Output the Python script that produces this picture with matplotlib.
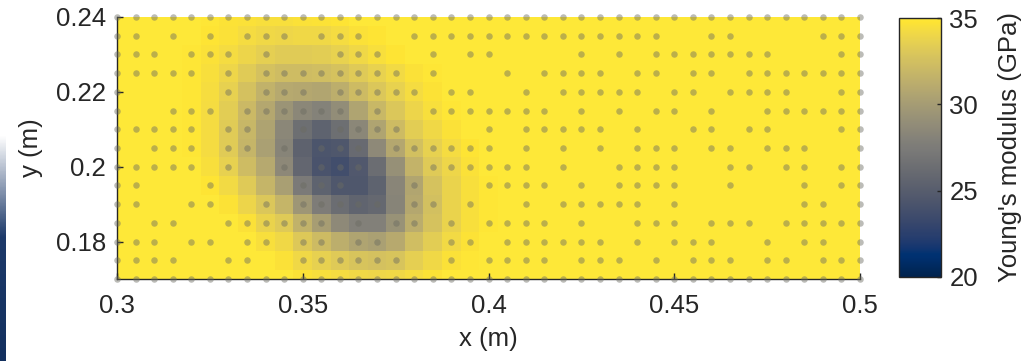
import numpy as np
import matplotlib
matplotlib.use("Agg")
import matplotlib.pyplot as plt
from matplotlib.colors import LinearSegmentedColormap

plt.rcParams['font.family'] = ['Liberation Sans', 'DejaVu Sans']

# ---------------- data ----------------
x_nodes = np.linspace(0.30, 0.50, 41)          # grid columns (m)
y_nodes = np.linspace(0.24, 0.17, 15)          # grid rows, top to bottom (m)

E_bg = 35.0
# Young's modulus (GPa) for columns x = 0.32 ... 0.40 (17 columns), rows top->bottom
E_patch = [
    [35.0, 34.9, 34.7, 34.6, 34.5, 34.5, 34.6, 34.7, 34.8, 35.0, 35.0, 35.0, 35.0, 35.0, 35.0, 35.0, 35.0],
    [35.0, 34.8, 34.6, 34.3, 34.1, 34.0, 34.1, 34.1, 34.3, 34.6, 34.8, 35.0, 35.0, 35.0, 35.0, 35.0, 35.0],
    [34.9, 34.6, 34.3, 33.9, 33.5, 33.3, 33.3, 33.4, 33.7, 34.1, 34.5, 34.8, 35.0, 35.0, 35.0, 35.0, 35.0],
    [34.9, 34.5, 34.0, 33.3, 32.6, 32.3, 32.3, 32.4, 32.7, 33.2, 33.7, 34.2, 34.6, 34.9, 35.0, 35.0, 35.0],
    [34.9, 34.4, 33.6, 32.6, 31.6, 30.9, 30.8, 30.7, 31.3, 32.2, 33.0, 33.7, 34.3, 34.7, 35.0, 35.0, 35.0],
    [34.9, 34.3, 33.4, 32.1, 30.8, 29.4, 28.4, 28.0, 28.9, 30.6, 32.0, 33.0, 33.9, 34.5, 34.9, 35.0, 35.0],
    [34.9, 34.3, 33.3, 31.9, 30.5, 28.4, 26.5, 25.5, 26.5, 28.4, 30.6, 32.2, 33.4, 34.1, 34.6, 35.0, 35.0],
    [34.9, 34.3, 33.3, 31.8, 30.3, 28.2, 25.4, 24.3, 24.5, 26.1, 28.6, 30.8, 32.5, 33.6, 34.3, 34.8, 35.0],
    [35.0, 34.5, 33.6, 32.3, 30.9, 28.5, 25.8, 24.2, 23.7, 24.6, 26.3, 29.1, 31.7, 33.2, 34.0, 34.6, 35.0],
    [35.0, 34.8, 34.2, 33.2, 31.8, 30.2, 27.4, 25.5, 24.5, 24.5, 25.5, 28.3, 30.7, 32.7, 33.8, 34.5, 34.9],
    [35.0, 35.0, 34.7, 33.9, 33.0, 31.8, 29.6, 27.6, 26.3, 25.6, 25.9, 28.2, 30.8, 32.5, 33.8, 34.5, 34.9],
    [35.0, 35.0, 35.0, 34.6, 33.8, 33.2, 31.6, 30.1, 28.6, 27.9, 27.9, 29.2, 31.2, 32.7, 33.8, 34.5, 34.9],
    [35.0, 35.0, 35.0, 35.0, 34.5, 34.1, 33.1, 32.2, 31.3, 30.6, 30.3, 31.0, 32.4, 33.4, 34.2, 34.7, 35.0],
    [35.0, 35.0, 35.0, 35.0, 35.0, 34.6, 34.1, 33.6, 33.2, 32.8, 32.6, 32.8, 33.5, 34.1, 34.6, 34.9, 35.0],
    [35.0, 35.0, 35.0, 35.0, 35.0, 35.0, 34.7, 34.5, 34.3, 34.1, 34.0, 34.1, 34.4, 34.7, 35.0, 35.0, 35.0],
]
patch_x0 = 0.32  # x of first patch column

# measurement points ('x' = point present), rows top->bottom, 41 columns
point_rows = [
    "xxxxxxxxxxxxxxxxxxxxxxxxxxxxxxxxxxxxxxxxx",
    "xx.x.x.xxx.xxx..xxxxxxxxxxxxxx..xx....xxx",
    "xxx.xxx.x...xxx..x.xx....x.x.xxxxxxx...xx",
    "xxxxx.x.xxxxxxxx.x...x.xxxx.xx.xx.xxxxxxx",
    "x.....x.xxx.xxxxx.xx..x.xxxxx.xx.xxxx..xx",
    "x..xxx.xxxxxx.x..xxxxxxx.x.x.xx.x..xxxxxx",
    "xxxxx.xx..x.xxxx....x.xxxxx.x..xx.xx...xx",
    "x.xxx.xx.x.xxx.xxxxxx.x.x.x.xxx.xx.xxx..x",
    "xxxxx.x..x.xxx...xxxxxx.x..xxxx..xx.xx.xx",
    "xx...x....xxx...x...xxxx.x.xxxx..x...x.xx",
    "xx..xx..x.xxxxx.xx.x..x.xxxxx.x......xx.x",
    "x.xx..xxxxxx.x.xx.x.xxxx.x..xxx.xxx.xxxxx",
    "xxx.xx.xx.xx.xx...xx.xxxxxx.x.xxx..x.xx.x",
    "xxxx..xx..xxxxxx..x.xxxx.xxx.x.xxx.xx.xxx",
    "xxxxxxxxxxxxxxxxxxxxxxxxxxxxxxxxxxxxxxxxx",
]

x_ticks = [0.30, 0.35, 0.40, 0.45, 0.50]
x_ticklabels = ["0.3", "0.35", "0.4", "0.45", "0.5"]
y_ticks = [0.18, 0.20, 0.22, 0.24]
y_ticklabels = ["0.18", "0.2", "0.22", "0.24"]
cb_ticks = [20, 25, 30, 35]
cb_ticklabels = ["20", "25", "30", "35"]

# ---------------- build field ----------------
E = np.full((len(y_nodes), len(x_nodes)), E_bg)
patch = np.array(E_patch)
c0 = int(np.argmin(np.abs(x_nodes - patch_x0)))
E[:, c0:c0 + patch.shape[1]] = patch

px, py = [], []
for j, row in enumerate(point_rows):
    for i, ch in enumerate(row):
        if ch == 'x':
            px.append(x_nodes[i])
            py.append(y_nodes[j])

# ---------------- figure ----------------
W, H = 1027, 361
fig = plt.figure(figsize=(W / 100, H / 100), dpi=100)
txt = '#262626'
fs = 18.5

ax = fig.add_axes([117 / W, 1 - 279 / H, (860 - 117) / W, (279 - 17) / H])
mesh = ax.pcolormesh(x_nodes, y_nodes, E, shading='nearest', cmap='cividis',
                     vmin=20, vmax=35, antialiased=False, edgecolors='none', zorder=1)
ax.scatter(px, py, s=22, color=(0.42, 0.42, 0.38), alpha=0.45, linewidths=0,
           zorder=4, clip_on=False)
ax.set_xlim(0.30, 0.50)
ax.set_ylim(0.17, 0.24)
ax.set_xticks(x_ticks)
ax.set_xticklabels(x_ticklabels)
ax.set_yticks(y_ticks)
ax.set_yticklabels(y_ticklabels)
for s in ['top', 'right']:
    ax.spines[s].set_visible(False)
for s in ['left', 'bottom']:
    ax.spines[s].set_color(txt)
    ax.spines[s].set_linewidth(1.0)
    ax.spines[s].set_zorder(3)
ax.tick_params(direction='in', length=4, width=1, colors=txt, labelsize=fs,
               labelcolor=txt)
ax.tick_params(axis='x', pad=11)
ax.tick_params(axis='y', pad=8)
ax.set_xlabel("x (m)", fontsize=fs, color=txt, labelpad=6)
ax.set_ylabel("y (m)", fontsize=fs, color=txt, labelpad=9)

# colorbar
cax = fig.add_axes([899 / W, 1 - 277 / H, 42 / W, (277 - 18) / H])
cb = fig.colorbar(mesh, cax=cax, ticks=cb_ticks)
cb.ax.set_yticklabels(cb_ticklabels)
cb.ax.tick_params(direction='in', length=3, width=1, colors=txt, labelsize=fs,
                  labelcolor=txt, pad=6)
cb.outline.set_edgecolor(txt)
cb.outline.set_linewidth(1.0)
cb.set_label("Young's modulus (GPa)", fontsize=fs, color=txt, labelpad=14)

# left edge fragment of the neighbouring panel
bar_ax = fig.add_axes([0, 0, 6 / W, 1 - 135 / H])
bar_ax.axis('off')
grad = np.linspace(0, 1, 200).reshape(-1, 1)
bar_cmap = LinearSegmentedColormap.from_list(
    'edge', [(0.0, '#ffffff'), (0.45, '#1d3a6a'), (1.0, '#13305f')])
bar_ax.imshow(grad, aspect='auto', cmap=bar_cmap, extent=[0, 1, 0, 1], origin='upper')

fig.savefig("out.png", dpi=100)
